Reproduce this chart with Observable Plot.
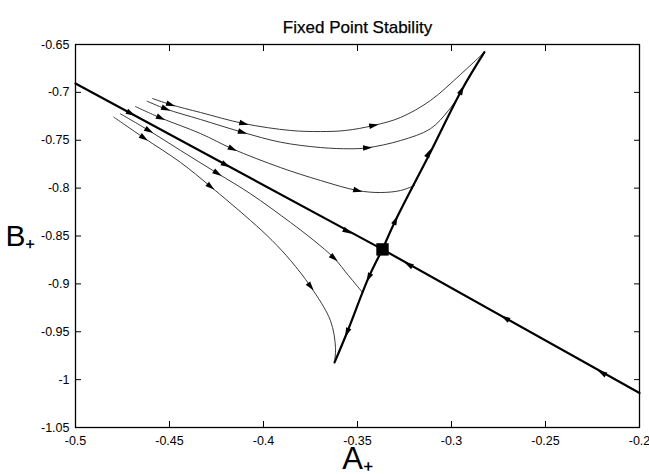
<!DOCTYPE html>
<html>
<head>
<meta charset="utf-8">
<script src="https://cdn.jsdelivr.net/npm/d3@7"></script>
<script src="https://cdn.jsdelivr.net/npm/@observablehq/plot@0.6"></script>
<style>
  body { margin: 0; background: #fff; }
  svg { font-family: "Liberation Sans", Arial, sans-serif; }
</style>
</head>
<body>
<div id="chart"></div>
<script>
// ---- text ----
const title = "Fixed Point Stability";
const xLabel = "A₊";
const yLabel = "B₊";

// ---- ticks ----
const xTicks = [-0.5, -0.45, -0.4, -0.35, -0.3, -0.25, -0.2];
const yTicks = [-1.05, -1, -0.95, -0.9, -0.85, -0.8, -0.75, -0.7, -0.65];

// ---- fixed point ----
const fixedPoint = [[-0.3367, -0.864]];

// ---- manifolds (thick), listed in the direction of flow ----
const stableLeft = [[-0.5, -0.6907], [-0.3367, -0.864]];
const stableRight = [[-0.2, -1.014], [-0.3367, -0.864]];
const unstableUp = [[-0.3367, -0.864], [-0.3298, -0.8338], [-0.3112, -0.7625], [-0.2947, -0.698], [-0.2825, -0.658]];
const unstableDown = [[-0.3367, -0.864], [-0.344, -0.893], [-0.3555, -0.9505], [-0.3622, -0.982]];

// ---- trajectories (thin), listed in the direction of flow ----
const traj1 = [[-0.459, -0.7064], [-0.4495, -0.7127], [-0.4335, -0.721], [-0.4106, -0.7325], [-0.3856, -0.7398],
  [-0.3697, -0.7409], [-0.3564, -0.7398], [-0.3415, -0.7346], [-0.3271, -0.7262], [-0.3112, -0.7085],
  [-0.2952, -0.6813], [-0.2825, -0.658]];
const traj2 = [[-0.4619, -0.7092], [-0.4521, -0.7172], [-0.4335, -0.7283], [-0.4113, -0.7416], [-0.391, -0.752],
  [-0.3697, -0.7576], [-0.3537, -0.7589], [-0.3448, -0.7579], [-0.3271, -0.7503], [-0.3112, -0.738],
  [-0.3016, -0.7189], [-0.2941, -0.698]];
const traj3 = [[-0.4681, -0.7148], [-0.4548, -0.7266], [-0.4335, -0.743], [-0.4166, -0.7589], [-0.391, -0.7785],
  [-0.3697, -0.792], [-0.35, -0.8025], [-0.3378, -0.8046], [-0.3271, -0.8025], [-0.3197, -0.7973]];
const traj4 = [[-0.4761, -0.7224], [-0.461, -0.7398], [-0.4441, -0.7607], [-0.4246, -0.7844], [-0.4069, -0.8059],
  [-0.3856, -0.8359], [-0.3732, -0.8547], [-0.3626, -0.8728], [-0.3548, -0.8913], [-0.3473, -0.909]];
const traj5 = [[-0.4796, -0.7259], [-0.4637, -0.7474], [-0.4441, -0.7732], [-0.4282, -0.7983], [-0.4069, -0.8338],
  [-0.3954, -0.8547], [-0.3856, -0.8756], [-0.375, -0.9027], [-0.3644, -0.9383], [-0.3617, -0.9665], [-0.3622, -0.982]];

// ---- arrowheads: curve name, x, y ----
const arrowCurves = ["stableLeft", "stableLeft", "stableLeft", "stableRight", "stableRight", "stableRight",
  "unstableUp", "unstableUp", "unstableUp", "unstableDown", "unstableDown",
  "traj1", "traj1", "traj1", "traj2", "traj2", "traj2", "traj3", "traj3", "traj3",
  "traj4", "traj4", "traj4", "traj5", "traj5", "traj5"];
const arrowX = [-0.4707, -0.4202, -0.3555, -0.3227, -0.2713, -0.2198,
  -0.3298, -0.3122, -0.2947, -0.344, -0.3555,
  -0.4495, -0.4106, -0.3415, -0.4521, -0.4113, -0.3448, -0.4548, -0.4166, -0.35,
  -0.461, -0.4246, -0.3626, -0.4637, -0.4282, -0.375];
const arrowY = [-0.7218, -0.7756, -0.845, -0.88, -0.936, -0.993,
  -0.8338, -0.7638, -0.698, -0.893, -0.9505,
  -0.7127, -0.7325, -0.7346, -0.7172, -0.7416, -0.7579, -0.7266, -0.7589, -0.8025,
  -0.7398, -0.7844, -0.8728, -0.7474, -0.7983, -0.9027];

const curves = {stableLeft, stableRight, unstableUp, unstableDown, traj1, traj2, traj3, traj4, traj5};
const thick = [stableLeft, stableRight, unstableUp, unstableDown];
const thin = [traj1, traj2, traj3, traj4, traj5];

const W = 649, H = 474;
const layout = {width: W, height: H, marginLeft: 75, marginRight: 10, marginTop: 44, marginBottom: 47};

// narrow filled arrowhead pointing up
const arrowHead = {
  draw(ctx, size) {
    const s = Math.sqrt(size);
    ctx.moveTo(0, -s * 0.55);
    ctx.lineTo(s * 0.3, s * 0.45);
    ctx.lineTo(-s * 0.3, s * 0.45);
    ctx.closePath();
  }
};

function build(arrows) {
  const marks = [
    Plot.frame({stroke: "#000", strokeWidth: 1.3}),
    Plot.axisX(xTicks, {anchor: "bottom", tickSize: -6, tickPadding: 15, tickFormat: d => String(d), fontSize: 12.5, label: null}),
    Plot.axisX(xTicks, {anchor: "top", tickSize: -6, tickFormat: () => "", label: null}),
    Plot.axisY(yTicks, {anchor: "left", tickSize: -6, tickPadding: 12, tickFormat: d => String(d), fontSize: 12.5, label: null}),
    Plot.axisY(yTicks, {anchor: "right", tickSize: -6, tickFormat: () => "", label: null}),
    ...thin.map(c => Plot.line(c, {x: d => d[0], y: d => d[1], stroke: "#222", strokeWidth: 0.9, curve: "catmull-rom"})),
    ...thick.map(c => Plot.line(c, {x: d => d[0], y: d => d[1], stroke: "#000", strokeWidth: 2.2, curve: "catmull-rom"})),
    Plot.dot(fixedPoint, {x: d => d[0], y: d => d[1], symbol: "square", r: 7, fill: "#000", stroke: null}),
    Plot.text([title], {frameAnchor: "top", dy: -24, fontSize: 17, fill: "#000", stroke: "#000", strokeWidth: 0.25}),
    Plot.text([xLabel], {frameAnchor: "bottom", dy: 41, fontSize: 31, fill: "#000"}),
    Plot.text([yLabel], {frameAnchor: "left", textAnchor: "end", fontSize: 30, fill: "#000", dx: -40})
  ];
  if (arrows) {
    marks.push(Plot.dot(arrows, {x: "x", y: "y", rotate: "angle", symbol: arrowHead, r: 5.3, fill: "#000", stroke: null}));
  }
  return Plot.plot({
    ...layout,
    x: {domain: [-0.5, -0.2]},
    y: {domain: [-1.05, -0.65]},
    marks
  });
}

// first pass: get the scales, then orient each arrowhead along its curve
const first = build(null);
const sx = first.scale("x"), sy = first.scale("y");
function segDist(px, py, ax, ay, bx, by) {
  const dx = bx - ax, dy = by - ay;
  const L = dx * dx + dy * dy || 1;
  let t = ((px - ax) * dx + (py - ay) * dy) / L;
  t = Math.max(0, Math.min(1, t));
  const qx = ax + t * dx - px, qy = ay + t * dy - py;
  return qx * qx + qy * qy;
}
const arrows = arrowCurves.map((name, i) => {
  const pts = curves[name].map(([x, y]) => [sx.apply(x), sy.apply(y)]);
  const px = sx.apply(arrowX[i]), py = sy.apply(arrowY[i]);
  let best = 0, bestD = Infinity;
  for (let k = 0; k < pts.length - 1; k++) {
    const d = segDist(px, py, pts[k][0], pts[k][1], pts[k + 1][0], pts[k + 1][1]);
    if (d < bestD) { bestD = d; best = k; }
  }
  const dx = pts[best + 1][0] - pts[best][0], dy = pts[best + 1][1] - pts[best][1];
  return {x: arrowX[i], y: arrowY[i], angle: Math.atan2(dx, -dy) * 180 / Math.PI};
});

document.getElementById("chart").append(build(arrows));
</script>
</body>
</html>
